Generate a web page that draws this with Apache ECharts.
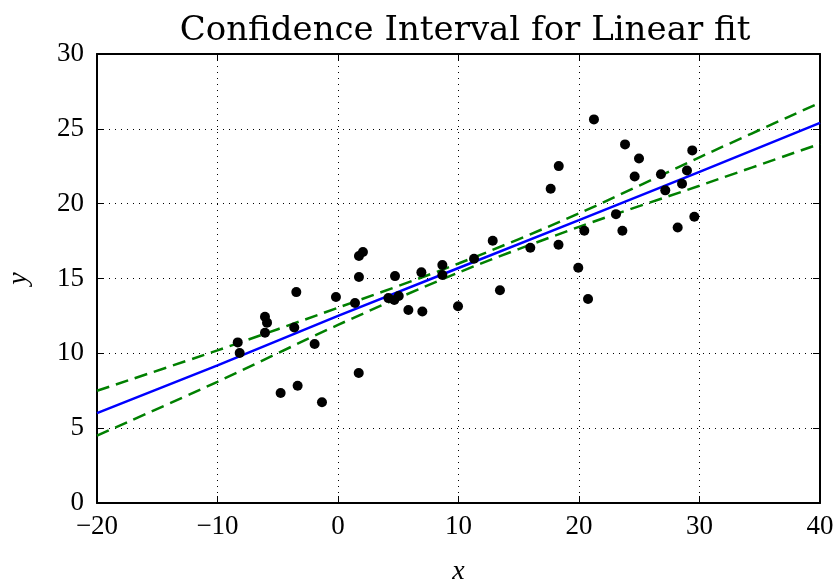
<!DOCTYPE html>
<html>
<head>
<meta charset="utf-8">
<script src="https://cdn.jsdelivr.net/npm/echarts@6/dist/echarts.min.js"></script>
<style>
  html, body { margin: 0; padding: 0; background: #fff; }
  #chart { width: 840px; height: 581px; }
</style>
</head>
<body>
<div id="chart"></div>
<script>
// scatter data
var ptX = [-8.32, -8.16, -6.06, -5.89, -6.06, -3.46, -3.63, -3.35, -4.76, -1.94,
           -1.33, -0.17, 1.41, 1.74, 2.07, 1.74, 1.72, 4.73, 4.18, 4.67,
           5.04, 5.84, 6.92, 7.0, 8.66, 8.66, 9.96, 11.29, 12.84, 13.44,
           15.96, 18.3, 19.94, 21.24, 18.32, 17.65, 20.75, 20.44, 23.07, 23.6,
           23.82, 24.98, 24.62, 26.8, 27.16, 28.19, 28.55, 28.96, 29.4, 29.57];
var ptY = [10.73, 10.02, 12.45, 12.05, 11.38, 14.09, 11.73, 7.84, 7.35, 10.62,
           6.73, 13.76, 13.36, 16.5, 16.77, 15.1, 8.68, 15.16, 13.69, 13.56,
           13.83, 12.89, 15.41, 12.8, 15.9, 15.23, 13.14, 16.32, 17.52, 14.21,
           17.06, 17.26, 15.72, 25.63, 22.51, 21.0, 13.63, 18.19, 19.3, 18.19,
           23.96, 23.02, 21.82, 21.96, 20.89, 18.41, 21.33, 22.22, 23.56, 19.13];

// fit line and confidence band, read at the grid x positions
var lineX = [-20, -10, 0, 10, 20, 30, 40];
var fitY = [6.0, 9.2, 12.5, 15.7, 18.9, 22.13, 25.4];
var upperY = [7.5, 10.2, 13.05, 16.0, 19.35, 23.1, 26.75];
var lowerY = [4.5, 8.1, 11.9, 15.4, 18.45, 21.2, 24.0];

function pairs(xs, ys) {
    return xs.map(function (v, i) { return [v, ys[i]]; });
}
function minus(v) {
    return String(v).replace('-', '\u2212');
}

var serif = 'Liberation Serif';
var myChart = echarts.init(document.getElementById('chart'));

var frameLine = { show: true, onZero: false, lineStyle: { color: '#000', width: 2 } };
var frameTick = { show: true, inside: true, length: 7, lineStyle: { color: '#000', width: 1 } };
var gridDots = { show: true, lineStyle: { color: '#000', type: [1, 5], width: 1 } };
var labelFont = { fontFamily: serif, fontSize: 27, color: '#000', formatter: minus };
var nameFont = { fontFamily: serif, fontStyle: 'italic', fontSize: 28, color: '#000' };

var option = {
    animation: false,
    backgroundColor: '#fff',
    title: {
        text: 'Confidence Interval for Linear fit',
        left: 460, top: 9, textAlign: 'center',
        textStyle: { fontFamily: 'DejaVu Serif', fontSize: 34, fontWeight: 'normal', color: '#000' }
    },
    grid: { left: 97, right: 20, top: 54, bottom: 78, outerBoundsMode: 'none', containLabel: false },
    xAxis: [
        {
            type: 'value', min: -20, max: 40, interval: 10, position: 'bottom',
            name: 'x', nameLocation: 'middle', nameGap: 55, nameTextStyle: nameFont,
            axisLabel: Object.assign({ margin: 10 }, labelFont),
            axisLine: frameLine, axisTick: frameTick, splitLine: gridDots
        },
        {
            type: 'value', min: -20, max: 40, interval: 10, position: 'top',
            axisLabel: { show: false }, axisLine: frameLine, axisTick: frameTick,
            splitLine: { show: false }
        }
    ],
    yAxis: [
        {
            type: 'value', min: 0, max: 30, interval: 5, position: 'left',
            name: 'y', nameLocation: 'middle', nameGap: 64, nameRotate: 90, nameTextStyle: nameFont,
            axisLabel: Object.assign({ margin: 13 }, labelFont),
            axisLine: frameLine, axisTick: frameTick, splitLine: gridDots
        },
        {
            type: 'value', min: 0, max: 30, interval: 5, position: 'right',
            axisLabel: { show: false }, axisLine: frameLine, axisTick: frameTick,
            splitLine: { show: false }
        }
    ],
    series: [
        {
            type: 'scatter', data: pairs(ptX, ptY),
            symbol: 'circle', symbolSize: 10,
            itemStyle: { color: '#000', opacity: 1 }, z: 5
        },
        {
            type: 'line', data: pairs(lineX, fitY), showSymbol: false,
            lineStyle: { color: '#0000ff', width: 2.5 }, z: 3
        },
        {
            type: 'line', data: pairs(lineX, upperY), showSymbol: false, smooth: 0.3,
            lineStyle: { color: '#008000', width: 2.5, type: [13, 7] }, z: 4
        },
        {
            type: 'line', data: pairs(lineX, lowerY), showSymbol: false, smooth: 0.3,
            lineStyle: { color: '#008000', width: 2.5, type: [13, 7] }, z: 4
        }
    ]
};

myChart.setOption(option);
</script>
</body>
</html>
